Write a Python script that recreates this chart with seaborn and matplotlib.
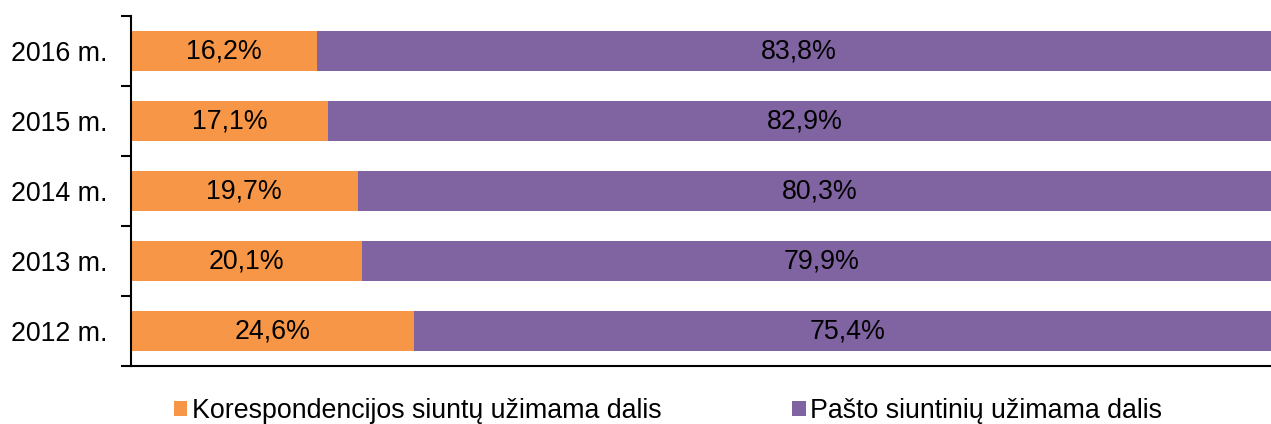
import matplotlib
matplotlib.use("Agg")
import matplotlib.pyplot as plt
import seaborn as sns
import pandas as pd
from matplotlib.patches import Patch

years = ["2016 m.", "2015 m.", "2014 m.", "2013 m.", "2012 m."]
korespondencija = [16.2, 17.1, 19.7, 20.1, 24.6]
siuntiniai = [83.8, 82.9, 80.3, 79.9, 75.4]
series_names = ["Korespondencijos siuntų užimama dalis", "Pašto siuntinių užimama dalis"]
colors = ["#F79646", "#8064A2"]

sns.set_theme(style="white")
plt.rcParams["font.family"] = ["Liberation Sans", "DejaVu Sans"]
plt.rcParams["text.color"] = "black"

df = pd.DataFrame({"year": years, "k": korespondencija, "s": siuntiniai})
df["total"] = df["k"] + df["s"]

fig = plt.figure(figsize=(12.71, 4.24), dpi=100)
ax = fig.add_axes([131 / 1271, 1 - 366 / 424, 1150 / 1271, 350 / 424])

sns.barplot(data=df, y="year", x="total", color=colors[1], orient="h",
            width=0.57, ax=ax, saturation=1, order=years, linewidth=0)
sns.barplot(data=df, y="year", x="k", color=colors[0], orient="h",
            width=0.57, ax=ax, saturation=1, order=years, linewidth=0)

fs = 19.3
for i, (k, s) in enumerate(zip(korespondencija, siuntiniai)):
    ax.text(k / 2, i, f"{k:.1f}%".replace(".", ","), ha="center", va="center",
            fontsize=fs, color="black")
    ax.text(k + s / 2, i, f"{s:.1f}%".replace(".", ","), ha="center", va="center",
            fontsize=fs, color="black")

ax.set_xlim(0, 100)
ax.set_ylim(len(years) - 0.5, -0.5)
ax.set_xlabel("")
ax.set_ylabel("")
ax.set_xticks([])
ax.set_yticks(range(len(years)))
ax.set_yticklabels(years, fontsize=fs, color="black")
ax.set_yticks([i - 0.5 for i in range(len(years) + 1)], minor=True)
ax.tick_params(axis="y", which="major", length=0, pad=17)
ax.tick_params(axis="y", which="minor", length=7, width=1.5, color="black", left=True)
for side in ["top", "right"]:
    ax.spines[side].set_visible(False)
for side in ["left", "bottom"]:
    ax.spines[side].set_color("black")
    ax.spines[side].set_linewidth(1.5)

handles = [Patch(facecolor=c, edgecolor="none") for c in colors]
fig.legend(handles, series_names, loc="center", ncol=2,
           bbox_to_anchor=(668 / 1271, 1 - 411 / 424), frameon=False,
           fontsize=fs, handlelength=0.5, handleheight=0.5, handletextpad=0.15,
           columnspacing=4.9, borderpad=0, labelcolor="black")

fig.savefig("out.png", dpi=100)
